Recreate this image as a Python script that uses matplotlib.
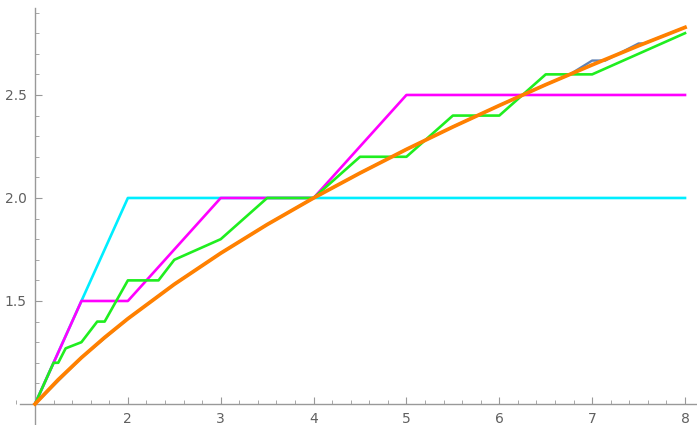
import numpy as np
import matplotlib.pyplot as plt
from matplotlib.ticker import MultipleLocator

# square-root curve, tabulated
x_sqrt = [1.0, 1.25, 1.5, 1.75, 2.0, 2.5, 3.0, 3.5, 4.0, 4.5, 5.0, 5.5,
          6.0, 6.5, 7.0, 7.5, 8.0]
y_sqrt = [1.0, 1.118, 1.225, 1.323, 1.414, 1.581, 1.732, 1.871, 2.0,
          2.121, 2.236, 2.345, 2.449, 2.550, 2.646, 2.739, 2.828]

# fine staircase approximation (mostly hidden under the curve)
x_fine = [1.0, 1.5, 2.0, 2.5, 3.0, 3.5, 4.0, 4.5, 5.0, 5.5, 6.0, 6.5,
          6.76, 7.0, 7.14, 7.5, 7.56, 8.0]
y_fine = [1.0, 1.225, 1.414, 1.581, 1.732, 1.871, 2.0, 2.121, 2.236,
          2.345, 2.449, 2.550, 2.6, 2.667, 2.667, 2.75, 2.75, 2.828]

# coarse approximations
x_cyan = [1.0, 2.0, 8.0]
y_cyan = [1.0, 2.0, 2.0]

x_mag = [1.0, 1.5, 2.0, 3.0, 4.0, 5.0, 8.0]
y_mag = [1.0, 1.5, 1.5, 2.0, 2.0, 2.5, 2.5]

x_green = [1.0, 1.2, 1.25, 1.33, 1.5, 1.67, 1.75, 2.0, 2.33, 2.5, 3.0,
           3.5, 4.0, 4.5, 5.0, 5.5, 6.0, 6.5, 7.0, 8.0]
y_green = [1.0, 1.2, 1.2, 1.27, 1.3, 1.4, 1.4, 1.6, 1.6, 1.7, 1.8,
           2.0, 2.0, 2.2, 2.2, 2.4, 2.4, 2.6, 2.6, 2.8]

fig = plt.figure(figsize=(6.97, 4.25), dpi=100)
ax = fig.add_axes([0, 0, 1, 1])

ax.plot(x_fine, y_fine, color="#5e81b5", lw=1.7, zorder=2)
ax.plot(x_cyan, y_cyan, color="#00eeff", lw=1.9, zorder=3)
ax.plot(x_mag, y_mag, color="#ff00ff", lw=1.9, zorder=4)
ax.plot(x_green, y_green, color="#1fee1f", lw=1.9, zorder=5)
ax.plot(x_sqrt, y_sqrt, color="#ff8000", lw=2.7, zorder=6)

ax.set_xlim(0.623, 8.129)
ax.set_ylim(0.898, 2.961)

for s in ("top", "right"):
    ax.spines[s].set_visible(False)
ax.spines["left"].set_position(("data", 1.0))
ax.spines["bottom"].set_position(("data", 1.0))
ax.spines["left"].set_bounds(0.898, 2.92)
ax.spines["bottom"].set_bounds(0.84, 8.129)
for s in ("left", "bottom"):
    ax.spines[s].set_color("#999999")
    ax.spines[s].set_linewidth(1.0)

ax.set_xticks([2, 3, 4, 5, 6, 7, 8])
ax.set_yticks([1.5, 2.0, 2.5])
ax.set_yticklabels(["1.5", "2.0", "2.5"])
ax.xaxis.set_minor_locator(MultipleLocator(0.2))
ax.yaxis.set_minor_locator(MultipleLocator(0.1))
ax.tick_params(which="both", direction="in", color="#999999",
               labelcolor="#606060", labelsize=10)
ax.tick_params(which="major", length=5, width=0.8)
ax.tick_params(which="minor", length=3, width=0.6)
ax.tick_params(axis="x", which="major", pad=6)
ax.tick_params(axis="y", which="major", pad=6)

fig.savefig("out.png", dpi=100)
